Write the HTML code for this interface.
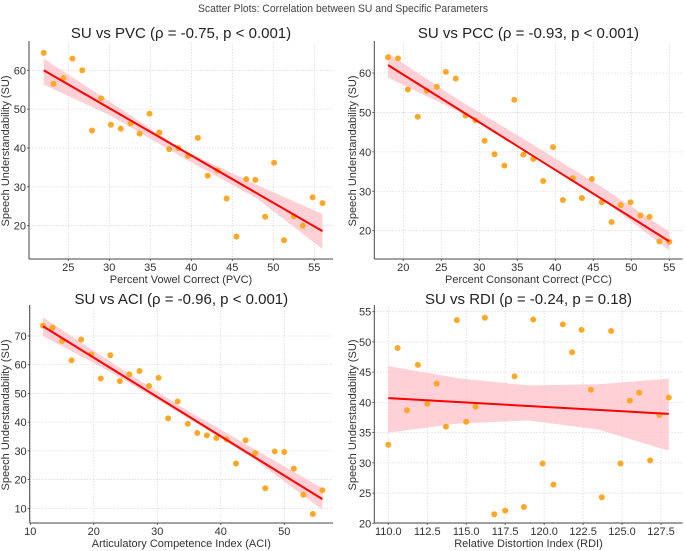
<!DOCTYPE html>
<html><head><meta charset="utf-8"><style>
html,body{margin:0;padding:0;background:#fff;}
svg{display:block;font-family:"Liberation Sans","DejaVu Sans",sans-serif;}
</style></head><body>
<svg id="chart" width="685" height="551" viewBox="0 0 685 551" xmlns="http://www.w3.org/2000/svg">
<text x="343" y="12" font-size="11" fill="#444" text-anchor="middle" textLength="290" lengthAdjust="spacingAndGlyphs">Scatter Plots: Correlation between SU and Specific Parameters</text>
</svg>
<script>
// Panel 1: PVC
const pvcX=[22,23.2,24.4,25.5,26.7,27.9,29,30.2,31.4,32.6,33.7,34.9,36.1,37.3,38.4,39.6,40.8,42,43.2,44.3,45.5,46.7,47.8,49,50.1,51.3,52.5,53.6,54.8,56];
const pvcY=[64.5,56.5,58,63,60,44.5,52.8,46,45,46.3,43.7,48.8,44,39.7,40,38,42.6,32.9,34.2,27,17.2,32,31.8,22.3,36.2,16.3,22.4,20,27.3,25.8];
const pvcFitX=[22,56];const pvcFitY=[60,18.6];
const pvcBandX=[22,30,39,48,56];const pvcBandLo=[56.3,48.5,37.5,27,14];const pvcBandHi=[63,52,39.5,30.5,23];
const pvcXTicks=[25,30,35,40,45,50,55];const pvcYTicks=[20,30,40,50,60];
// Panel 2: PCC
const pccX=[18,19.3,20.6,21.9,23.1,24.4,25.6,26.9,28.2,29.5,30.7,32,33.3,34.6,35.8,37.1,38.4,39.7,41,42.3,43.5,44.8,46.1,47.4,48.6,49.9,51.2,52.4,53.7,55];
const pccY=[64,63.7,55.8,48.9,55.5,56.5,60.3,58.6,49.2,48,42.8,39.4,36.5,53.2,39.3,38.2,32.6,41.2,27.8,33.3,28.3,33.1,27.2,22.2,26.5,27.2,23.9,23.5,17.3,17.2];
const pccFitX=[18,55];const pccFitY=[62,17.3];
const pccBandX=[18,27,36.5,46,55];const pccBandLo=[58.8,50.5,40.2,28.2,15];const pccBandHi=[65,53.5,42.5,31.2,19.8];
const pccXTicks=[20,25,30,35,40,45,50,55];const pccYTicks=[20,30,40,50,60];
// Panel 3: ACI
const aciX=[12,13.5,15,16.5,18,19.6,21.1,22.6,24.1,25.6,27.2,28.7,30.2,31.7,33.2,34.8,36.3,37.8,39.3,40.9,42.4,43.9,45.4,47,48.5,50,51.5,53,54.5,56];
const aciY=[73.6,72.9,68.3,61.5,68.8,63.6,55.2,63.3,54.3,56.7,57.8,52.6,55.4,41.3,47.2,39.4,36.2,35.4,34.5,34,25.6,33.7,29.2,17,29.8,29.6,23.8,14.7,8,16.3];
const aciFitX=[12,56];const aciFitY=[73.4,13.2];
const aciBandX=[12,23,34,45,56];const aciBandLo=[70,57,42.5,27.5,9.5];const aciBandHi=[76.5,60.5,45,31,17];
const aciXTicks=[10,20,30,40,50];const aciYTicks=[10,20,30,40,50,60,70];
// Panel 4: RDI
const rdiX=[110,110.6,111.2,111.9,112.5,113.1,113.7,114.4,115,115.6,116.2,116.8,117.5,118.1,118.7,119.3,119.9,120.6,121.2,121.8,122.4,123,123.7,124.3,124.9,125.5,126.1,126.8,127.4,128];
const rdiY=[33,49,38.7,46.2,39.8,43.1,36,53.6,36.8,39.3,54,21.5,22.1,44.3,22.7,53.7,29.9,26.4,52.9,48.3,52,42.1,24.3,51.8,29.9,40.3,41.6,30.4,37.9,40.8];
const rdiFitX=[110,128];const rdiFitY=[40.7,38.1];
const rdiBandX=[110,114.5,119,123.5,128];const rdiBandLo=[35,36.5,37,35.5,32];const rdiBandHi=[46,44,42.8,43,43.9];
const rdiXTicks=[110,112.5,115,117.5,120,122.5,125,127.5];const rdiYTicks=[20,25,30,35,40,45,50,55];

const svg=document.getElementById('chart');
const NS='http://www.w3.org/2000/svg';
function mk(tag,attrs,parent){const e=document.createElementNS(NS,tag);for(const k in attrs)e.setAttribute(k,attrs[k]);(parent||svg).appendChild(e);return e;}
function lin(v1,p1,v2,p2){return v=>p1+(v-v1)*(p2-p1)/(v2-v1);}

const panels=[
 {key:'pvc',title:'SU vs PVC (ρ = -0.75, p < 0.001)',xlab:'Percent Vowel Correct (PVC)',L:29,R:333,T:43,B:259,sx:lin(25,68.3,55,314.3),sy:lin(60,70.3,20,225.7),X:pvcX,Y:pvcY,fx:pvcFitX,fy:pvcFitY,bx:pvcBandX,bl:pvcBandLo,bh:pvcBandHi,xt:pvcXTicks,yt:pvcYTicks,ty:33,yly:9,fmt:v=>String(v)},
 {key:'pcc',title:'SU vs PCC (ρ = -0.93, p < 0.001)',xlab:'Percent Consonant Correct (PCC)',L:374.3,R:682.7,T:43,B:259,sx:lin(20,403.3,55,669.3),sy:lin(60,73,20,230.7),X:pccX,Y:pccY,fx:pccFitX,fy:pccFitY,bx:pccBandX,bl:pccBandLo,bh:pccBandHi,xt:pccXTicks,yt:pccYTicks,ty:33,yly:356,fmt:v=>String(v)},
 {key:'aci',title:'SU vs ACI (ρ = -0.96, p < 0.001)',xlab:'Articulatory Competence Index (ACI)',L:29.7,R:333,T:307,B:523,sx:lin(10,30.3,50,284.3),sy:lin(70,336,10,508.3),X:aciX,Y:aciY,fx:aciFitX,fy:aciFitY,bx:aciBandX,bl:aciBandLo,bh:aciBandHi,xt:aciXTicks,yt:aciYTicks,ty:299,yly:9,fmt:v=>String(v)},
 {key:'rdi',title:'SU vs RDI (ρ = -0.24, p = 0.18)',xlab:'Relative Distortion Index (RDI)',L:374.3,R:682.7,T:307,B:523,sx:lin(110,388.3,127.5,661),sy:lin(55,311.7,20,523.3),X:rdiX,Y:rdiY,fx:rdiFitX,fy:rdiFitY,bx:rdiBandX,bl:rdiBandLo,bh:rdiBandHi,xt:rdiXTicks,yt:rdiYTicks,ty:299,yly:356,fmt:v=>v.toFixed(1)}
];

panels.forEach(p=>{
 const g=mk('g',{});
 
 
 p.xt.forEach(v=>{const x=p.sx(v);
  const gl=mk('line',{x1:x,x2:x,y1:p.T,y2:p.B,stroke:'#d9d9d9','stroke-width':0.8,'stroke-dasharray':'1.5,1.5'},g);
  
  
  const tk=mk('line',{x1:x,x2:x,y1:p.B,y2:p.B+2,stroke:'#444','stroke-width':0.8},g);
  
  
  const tl=mk('text',{x:x,y:p.B+12,'font-size':11,fill:'#333','text-anchor':'middle'},g);
  tl.textContent=p.fmt(v);
  
  
 });
 p.yt.forEach(v=>{const y=p.sy(v);
  const gl=mk('line',{x1:p.L,x2:p.R,y1:y,y2:y,stroke:'#d9d9d9','stroke-width':0.8,'stroke-dasharray':'1.5,1.5'},g);
  
  
  const tk=mk('line',{x1:p.L-2,x2:p.L,y1:y,y2:y,stroke:'#444','stroke-width':0.8},g);
  
  
  const tl=mk('text',{x:p.L-3,y:y+4,'font-size':11,fill:'#333','text-anchor':'end'},g);
  tl.textContent=String(v);
  
  
 });
 let d='';
 p.bx.forEach((v,i)=>{d+=(i?'L':'M')+p.sx(v)+','+p.sy(p.bh[i]);});
 for(let i=p.bx.length-1;i>=0;i--)d+='L'+p.sx(p.bx[i])+','+p.sy(p.bl[i]);
 const band=mk('path',{d:d+'Z',fill:'#ffc0c8','fill-opacity':0.75},g);
 
 
 p.X.forEach((v,i)=>{
  const c=mk('circle',{cx:p.sx(v),cy:p.sy(p.Y[i]),r:3,fill:'#ffa726'},g);
  
  
 });
 const ln=mk('line',{x1:p.sx(p.fx[0]),y1:p.sy(p.fy[0]),x2:p.sx(p.fx[1]),y2:p.sy(p.fy[1]),stroke:'#ff0000','stroke-width':2},g);
 
 
 const ls=mk('line',{x1:p.L,x2:p.L,y1:p.T-2,y2:p.B,stroke:'#444','stroke-width':1},g);
 
 
 const bs=mk('line',{x1:p.L,x2:p.R,y1:p.B,y2:p.B,stroke:'#444','stroke-width':1},g);
 
 
 const t=mk('text',{x:(p.L+p.R)/2,y:p.ty+5,'font-size':15,fill:'#222','text-anchor':'middle'},g);
 t.textContent=p.title;
 
 
 const xl=mk('text',{x:(p.L+p.R)/2,y:p.B+24,'font-size':11,fill:'#333','text-anchor':'middle'},g);
 xl.textContent=p.xlab;
 
 
 const cy=(p.T+p.B)/2;
 const yl=mk('text',{x:p.yly,y:cy,'font-size':11,fill:'#333','text-anchor':'middle',transform:'rotate(-90 '+p.yly+' '+cy+')'},g);
 yl.textContent='Speech Understandability (SU)';
 
 
});
</script>
</body></html>
